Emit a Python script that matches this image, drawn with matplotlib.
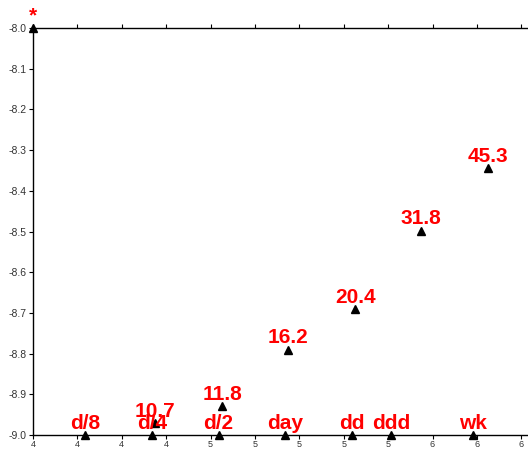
import numpy as np
import matplotlib
matplotlib.use("Agg")
import matplotlib.pyplot as plt

plt.rcParams["font.family"] = ["Liberation Sans", "DejaVu Sans"]

# period markers along the bottom (log10 of seconds)
periodNames = ["d/8", "d/4", "d/2", "day", "dd", "ddd", "wk"]
periodX = [4.033, 4.335, 4.636, 4.937, 5.238, 5.414, 5.782]
periodY = [-9.0, -9.0, -9.0, -9.0, -9.0, -9.0, -9.0]

# measured values, plotted as log10(value) - 10
valueLabels = ["10.7", "11.8", "16.2", "20.4", "31.8", "45.3"]
valueNums = [10.7, 11.8, 16.2, 20.4, 31.8, 45.3]
valueX = [4.35, 4.652, 4.951, 5.252, 5.548, 5.849]

starX = [3.8]
starY = [-8.0]

xTicks = [3.8, 4.0, 4.2, 4.4, 4.6, 4.8, 5.0, 5.2, 5.4, 5.6, 5.8, 6.0]
yTicks = [-9.0, -8.9, -8.8, -8.7, -8.6, -8.5, -8.4, -8.3, -8.2, -8.1, -8.0]

valueY = list(np.log10(valueNums) - 10)

fig = plt.figure(figsize=(5.28, 4.5), dpi=100)
ax = fig.add_axes([0.0625, 0.0333, 0.9375, 0.9045])

allX = starX + periodX + valueX
allY = starY + periodY + valueY
allText = ["*"] + periodNames + valueLabels
ax.plot(allX, allY, linestyle="none", marker="^", color="black",
        markersize=6, clip_on=False, zorder=3)
for x, y, t in zip(allX, allY, allText):
    ax.annotate(t, (x, y), xytext=(0, 4.5), textcoords="offset points",
                ha="center", va="baseline", color="red",
                fontsize=15, fontweight="bold", zorder=4,
                annotation_clip=False)

ax.set_xlim(3.8, 6.03)
ax.set_ylim(-9.0, -8.0)
ax.set_xticks(xTicks)
ax.set_xticklabels(["%.0f" % v for v in xTicks])
ax.set_yticks(yTicks)
ax.set_yticklabels(["%.1f" % v for v in yTicks])

ax.spines["right"].set_visible(False)
for s in ["left", "bottom", "top"]:
    ax.spines[s].set_linewidth(1.0)
ax.tick_params(axis="x", which="both", top=True, direction="out",
               length=3, width=0.8, labelsize=6.5, labelcolor="#333333", pad=0.5)
ax.tick_params(axis="y", direction="out", length=3, width=0.8,
               labelsize=7.5, labelcolor="#333333", pad=1.5)

fig.savefig("out.png", dpi=100)
